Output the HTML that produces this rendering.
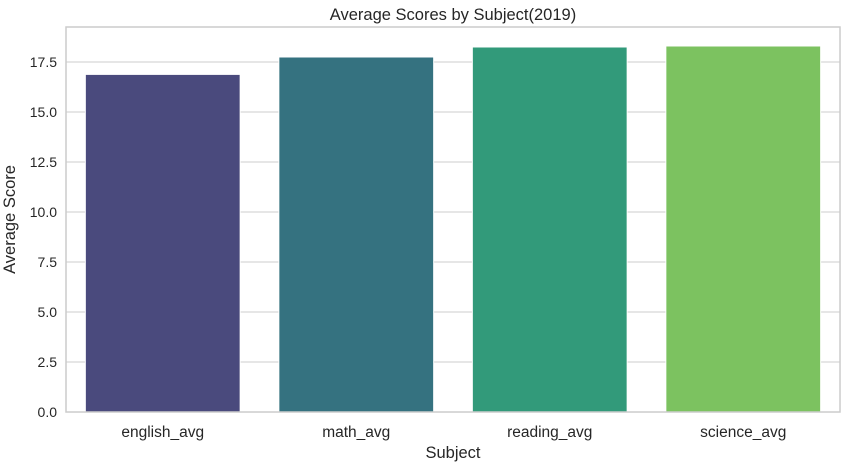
<!DOCTYPE html>
<html><head><meta charset="utf-8"><style>
body{margin:0;background:#fff;}
svg{display:block;font-family:"Liberation Sans",Arial,sans-serif;}
</style></head><body>
<svg id="c" width="862" height="472"></svg>
<script>
const categories=["english_avg","math_avg","reading_avg","science_avg"];
const scores=[16.88,17.75,18.25,18.3];
const yTicks=[0,2.5,5,7.5,10,12.5,15,17.5];
const colors=["#4a4a7d","#357280","#329a7a","#7cc260"];
const L=66,R=840,T=27,B=412,yMax=19.25;
const y=v=>B-(v/yMax)*(B-T);
const bw=(R-L)/categories.length;
const x=i=>L+bw*i;
const svg=document.getElementById('c');
const NS="http://www.w3.org/2000/svg";
function mk(t,a,txt){const e=document.createElementNS(NS,t);for(const k in a)e.setAttribute(k,a[k]);if(txt!==undefined)e.textContent=txt;svg.appendChild(e);return e;}
yTicks.forEach(v=>{
 const g=mk('line',{x1:L,x2:R,y1:y(v),y2:y(v),stroke:'#cccccc','stroke-width':1});
 
 
 const t=mk('text',{x:L-9,y:y(v)+5,'text-anchor':'end','font-size':14,fill:'#262626'},v.toFixed(1));
 
 
});
categories.forEach((c,i)=>{
 const r=mk('rect',{x:x(i)+bw*0.1,y:y(scores[i]),width:bw*0.8,height:B-y(scores[i]),fill:colors[i],stroke:'#fff','stroke-width':1});
 
 
 const t=mk('text',{x:x(i)+bw/2,y:B+25,'text-anchor':'middle','font-size':15.5,fill:'#262626'},c);
 
 
});
const f=mk('rect',{x:L,y:T,width:R-L,height:B-T,fill:'none',stroke:'#cccccc','stroke-width':1.5});


const ti=mk('text',{x:(L+R)/2,y:20,'text-anchor':'middle','font-size':16.5,fill:'#262626'},'Average Scores by Subject(2019)');


const xt=mk('text',{x:(L+R)/2,y:458,'text-anchor':'middle','font-size':16.5,fill:'#262626'},'Subject');


const yt=mk('text',{x:0,y:0,'text-anchor':'middle','font-size':16.5,fill:'#262626',transform:'translate(15,'+((T+B)/2)+') rotate(-90)'},'Average Score');


</script>
</body></html>
